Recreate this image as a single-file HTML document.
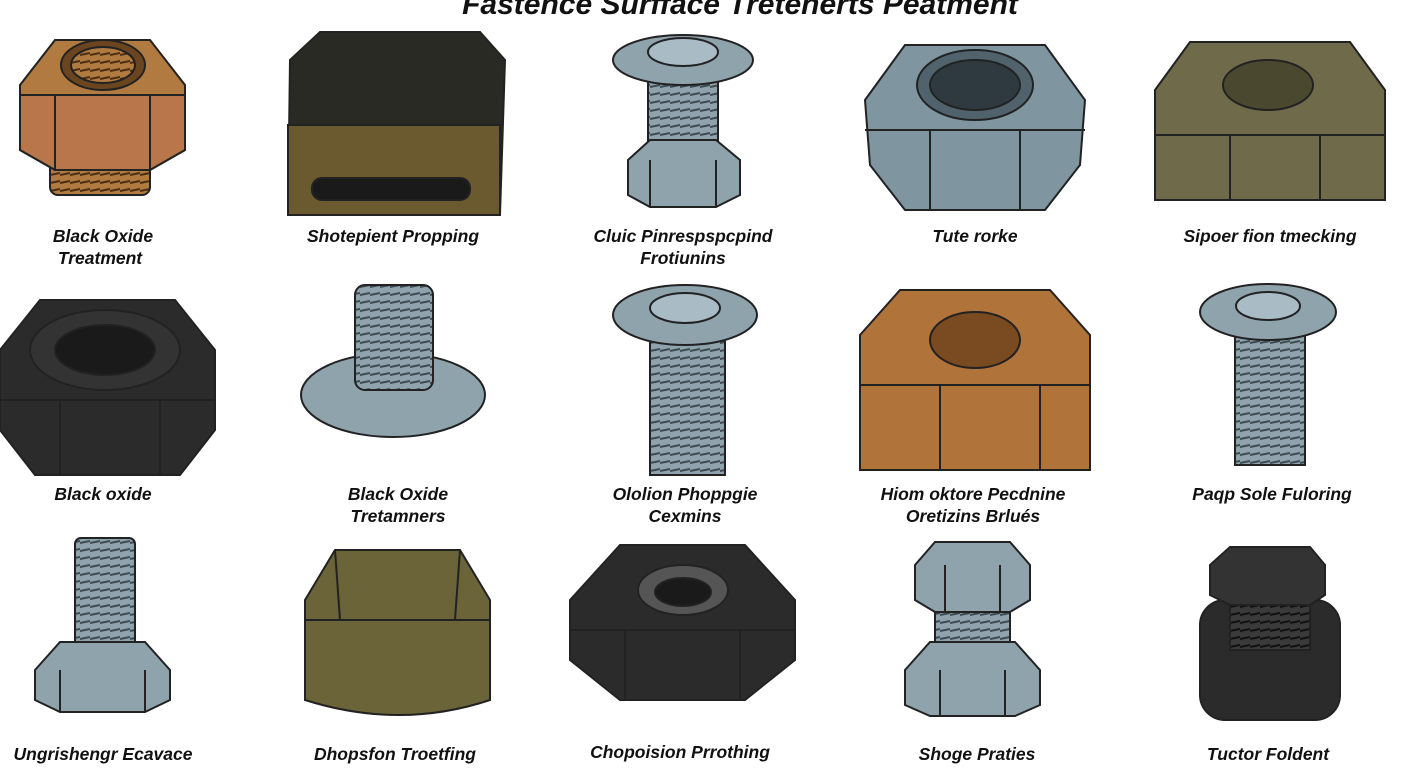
<!DOCTYPE html>
<html><head><meta charset="utf-8"><style>
html,body{margin:0;padding:0;background:#fff;width:1408px;height:768px;overflow:hidden}
svg{display:block}
text{font-family:"Liberation Sans",sans-serif;font-weight:bold;font-style:italic;fill:#111;font-size:17.5px;text-anchor:middle}
.t{font-size:30px}
</style></head><body>
<svg width="1408" height="768" viewBox="0 0 1408 768" xmlns="http://www.w3.org/2000/svg">
<defs>
<pattern id="thr" width="10" height="8" patternUnits="userSpaceOnUse"><rect width="10" height="8" fill="#8fa3ad"/><line x1="0" y1="7" x2="10" y2="5" stroke="#3d4a52" stroke-width="2"/></pattern>
<pattern id="thrB" width="10" height="8" patternUnits="userSpaceOnUse"><rect width="10" height="8" fill="#b07a40"/><line x1="0" y1="7" x2="10" y2="5" stroke="#4a2e14" stroke-width="2"/></pattern>
<pattern id="thrK" width="10" height="8" patternUnits="userSpaceOnUse"><rect width="10" height="8" fill="#3a3a3a"/><line x1="0" y1="7" x2="10" y2="5" stroke="#111" stroke-width="2"/></pattern>
</defs>
<g stroke="#222" stroke-width="2">
<text class="t" x="740" y="14" stroke="none">Fastence Surfface Tretenerts Peatment</text>

<!-- Row 1 -->
<rect x="50" y="150" width="100" height="45" rx="8" fill="url(#thrB)"/>
<polygon points="20,85 55,40 150,40 185,85 185,150 150,170 55,170 20,150" fill="#b07a40"/>
<polygon points="20,95 185,95 185,150 150,170 55,170 20,150" fill="#b8764a"/>
<line x1="55" y1="95" x2="55" y2="170"/><line x1="150" y1="95" x2="150" y2="170"/>
<ellipse cx="103" cy="65" rx="42" ry="25" fill="#6b4520"/>
<ellipse cx="103" cy="65" rx="32" ry="18" fill="url(#thrB)"/>

<path d="M290,60 L320,32 L480,32 L505,60 L500,215 L288,215 Z" fill="#2a2a25"/>
<path d="M288,125 L500,125 L500,215 L288,215 Z" fill="#6b5a30"/>
<rect x="312" y="178" width="158" height="22" rx="10" fill="#1a1a1a"/>

<rect x="648" y="80" width="70" height="70" fill="url(#thr)"/>
<polygon points="628,160 650,140 716,140 740,160 740,195 716,207 650,207 628,195" fill="#8fa3ad"/>
<line x1="650" y1="160" x2="650" y2="207"/><line x1="716" y1="160" x2="716" y2="207"/>
<ellipse cx="683" cy="60" rx="70" ry="25" fill="#8fa3ad"/>
<ellipse cx="683" cy="52" rx="35" ry="14" fill="#a9bbc4"/>

<polygon points="865,100 905,45 1045,45 1085,100 1080,165 1045,210 905,210 870,165" fill="#7f959f"/>
<line x1="865" y1="130" x2="1085" y2="130"/>
<line x1="930" y1="130" x2="930" y2="210"/><line x1="1020" y1="130" x2="1020" y2="210"/>
<ellipse cx="975" cy="85" rx="58" ry="35" fill="#50636d"/>
<ellipse cx="975" cy="85" rx="45" ry="25" fill="#2f3a40"/>

<polygon points="1155,90 1190,42 1350,42 1385,90 1385,200 1155,200" fill="#6e6a4a"/>
<line x1="1155" y1="135" x2="1385" y2="135"/>
<line x1="1230" y1="135" x2="1230" y2="200"/><line x1="1320" y1="135" x2="1320" y2="200"/>
<ellipse cx="1268" cy="85" rx="45" ry="25" fill="#4b4830"/>

<text x="103" y="242" stroke="none">Black Oxide</text><text x="100" y="264" stroke="none">Treatment</text>
<text x="393" y="242" stroke="none">Shotepient Propping</text>
<text x="683" y="242" stroke="none">Cluic  Pinrespspcpind</text><text x="683" y="264" stroke="none">Frotiunins</text>
<text x="975" y="242" stroke="none">Tute rorke</text>
<text x="1270" y="242" stroke="none">Sipoer fion tmecking</text>

<!-- Row 2 -->
<polygon points="0,350 40,300 175,300 215,350 215,430 180,475 35,475 0,430" fill="#2b2b2b"/>
<line x1="0" y1="400" x2="215" y2="400"/><line x1="60" y1="400" x2="60" y2="475"/><line x1="160" y1="400" x2="160" y2="475"/>
<ellipse cx="105" cy="350" rx="75" ry="40" fill="#333"/>
<ellipse cx="105" cy="350" rx="50" ry="25" fill="#1a1a1a"/>

<ellipse cx="393" cy="395" rx="92" ry="42" fill="#8fa3ad"/>
<rect x="355" y="285" width="78" height="105" rx="10" fill="url(#thr)"/>

<rect x="650" y="330" width="75" height="145" fill="url(#thr)"/>
<ellipse cx="685" cy="315" rx="72" ry="30" fill="#8fa3ad"/>
<ellipse cx="685" cy="308" rx="35" ry="15" fill="#a9bbc4"/>

<polygon points="860,335 900,290 1050,290 1090,335 1090,470 860,470" fill="#b0733a"/>
<line x1="860" y1="385" x2="1090" y2="385"/>
<line x1="940" y1="385" x2="940" y2="470"/><line x1="1040" y1="385" x2="1040" y2="470"/>
<ellipse cx="975" cy="340" rx="45" ry="28" fill="#7a4a20"/>

<rect x="1235" y="335" width="70" height="130" fill="url(#thr)"/>
<ellipse cx="1268" cy="312" rx="68" ry="28" fill="#8fa3ad"/>
<ellipse cx="1268" cy="306" rx="32" ry="14" fill="#a9bbc4"/>

<text x="103" y="500" stroke="none">Black oxide</text>
<text x="398" y="500" stroke="none">Black Oxide</text><text x="398" y="522" stroke="none">Tretamners</text>
<text x="685" y="500" stroke="none">Ololion Phoppgie</text><text x="685" y="522" stroke="none">Cexmins</text>
<text x="973" y="500" stroke="none">Hiom oktore Pecdnine</text><text x="973" y="522" stroke="none">Oretizins Brlués</text>
<text x="1272" y="500" stroke="none">Paqp Sole Fuloring</text>

<!-- Row 3 -->
<rect x="75" y="538" width="60" height="110" rx="6" fill="url(#thr)"/>
<polygon points="35,670 60,642 145,642 170,670 170,700 145,712 60,712 35,700" fill="#8fa3ad"/>
<line x1="60" y1="670" x2="60" y2="712"/><line x1="145" y1="670" x2="145" y2="712"/>

<path d="M305,600 L335,550 L460,550 L490,600 L490,700 Q400,730 305,700 Z" fill="#6b6438"/>
<line x1="305" y1="620" x2="490" y2="620"/>
<line x1="335" y1="550" x2="340" y2="620"/><line x1="460" y1="550" x2="455" y2="620"/>

<polygon points="570,600 620,545 745,545 795,600 795,660 745,700 620,700 570,660" fill="#2b2b2b"/>
<line x1="570" y1="630" x2="795" y2="630"/><line x1="625" y1="630" x2="625" y2="700"/><line x1="740" y1="630" x2="740" y2="700"/>
<ellipse cx="683" cy="590" rx="45" ry="25" fill="#555"/>
<ellipse cx="683" cy="592" rx="28" ry="14" fill="#1a1a1a"/>

<rect x="935" y="595" width="75" height="55" fill="url(#thr)"/>
<polygon points="915,565 935,542 1010,542 1030,565 1030,600 1010,612 935,612 915,600" fill="#8fa3ad"/>
<line x1="945" y1="565" x2="945" y2="612"/><line x1="1000" y1="565" x2="1000" y2="612"/>
<polygon points="905,670 930,642 1015,642 1040,670 1040,705 1015,716 930,716 905,705" fill="#8fa3ad"/>
<line x1="940" y1="670" x2="940" y2="716"/><line x1="1005" y1="670" x2="1005" y2="716"/>

<rect x="1200" y="600" width="140" height="120" rx="25" fill="#2b2b2b"/>
<rect x="1230" y="595" width="80" height="55" fill="url(#thrK)"/>
<polygon points="1210,565 1230,547 1310,547 1325,565 1325,595 1310,605 1230,605 1210,595" fill="#333"/>

<text x="103" y="760" stroke="none">Ungrishengr Ecavace</text>
<text x="395" y="760" stroke="none">Dhopsfon Troetfing</text>
<text x="680" y="758" stroke="none">Chopoision Prrothing</text>
<text x="977" y="760" stroke="none">Shoge Praties</text>
<text x="1268" y="760" stroke="none">Tuctor Foldent</text>
</g>
</svg>
</body></html>
